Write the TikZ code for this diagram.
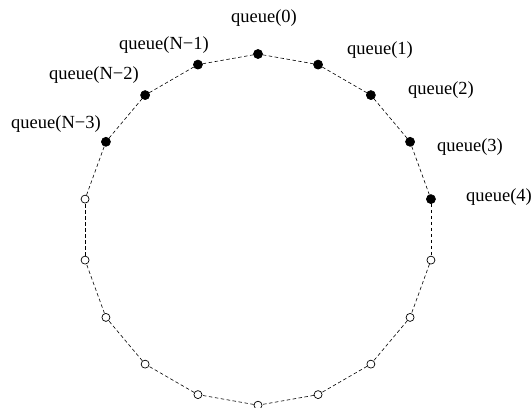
\documentclass[tikz,border=0pt]{standalone}
\usepackage{fontspec}
\setmainfont{Liberation Serif}
\begin{document}
\begin{tikzpicture}[
    x=1pt, y=-1pt,
    slot/.style={circle, draw, line width=0.7pt, inner sep=0pt, minimum size=8pt},
    usedslot/.style={slot, fill=black, minimum size=9pt},
    freeslot/.style={slot, fill=white},
    ring/.style={line width=0.6pt, dash pattern=on 3.5pt off 2.5pt},
    lbl/.style={font=\fontsize{18.5}{20}\selectfont, inner sep=0pt}
]
    \useasboundingbox (0,0) rectangle (532,407);

    % Slots on the ring, k=0 at the top, clockwise
    \foreach \k in {0,...,4,15,16,17}
        \node[usedslot] (q\k) at ({258+175.6*sin(20*\k)}, {229.6-175.6*cos(20*\k)}) {};
    \foreach \k in {5,...,14}
        \node[freeslot] (q\k) at ({258+175.6*sin(20*\k)}, {229.6-175.6*cos(20*\k)}) {};

    % Dashed ring between neighbouring slots
    \foreach \k [evaluate=\k as \n using {int(mod(\k+1,18))}] in {0,...,17}
        \draw[ring] (q\k) -- (q\n);

    % Labels
    \node[lbl] (l0) at (264, 18) {queue(0)};
    \node[lbl] (l1) at (380, 50) {queue(1)};
    \node[lbl] (l2) at (441, 90) {queue(2)};
    \node[lbl] (l3) at (470, 147) {queue(3)};
    \node[lbl] (l4) at (499, 197) {queue(4)};
    \node[lbl] (l17) at (164, 45) {queue(N−1)};
    \node[lbl] (l16) at (94, 75) {queue(N−2)};
    \node[lbl] (l15) at (56, 124) {queue(N−3)};
\end{tikzpicture}
\end{document}
